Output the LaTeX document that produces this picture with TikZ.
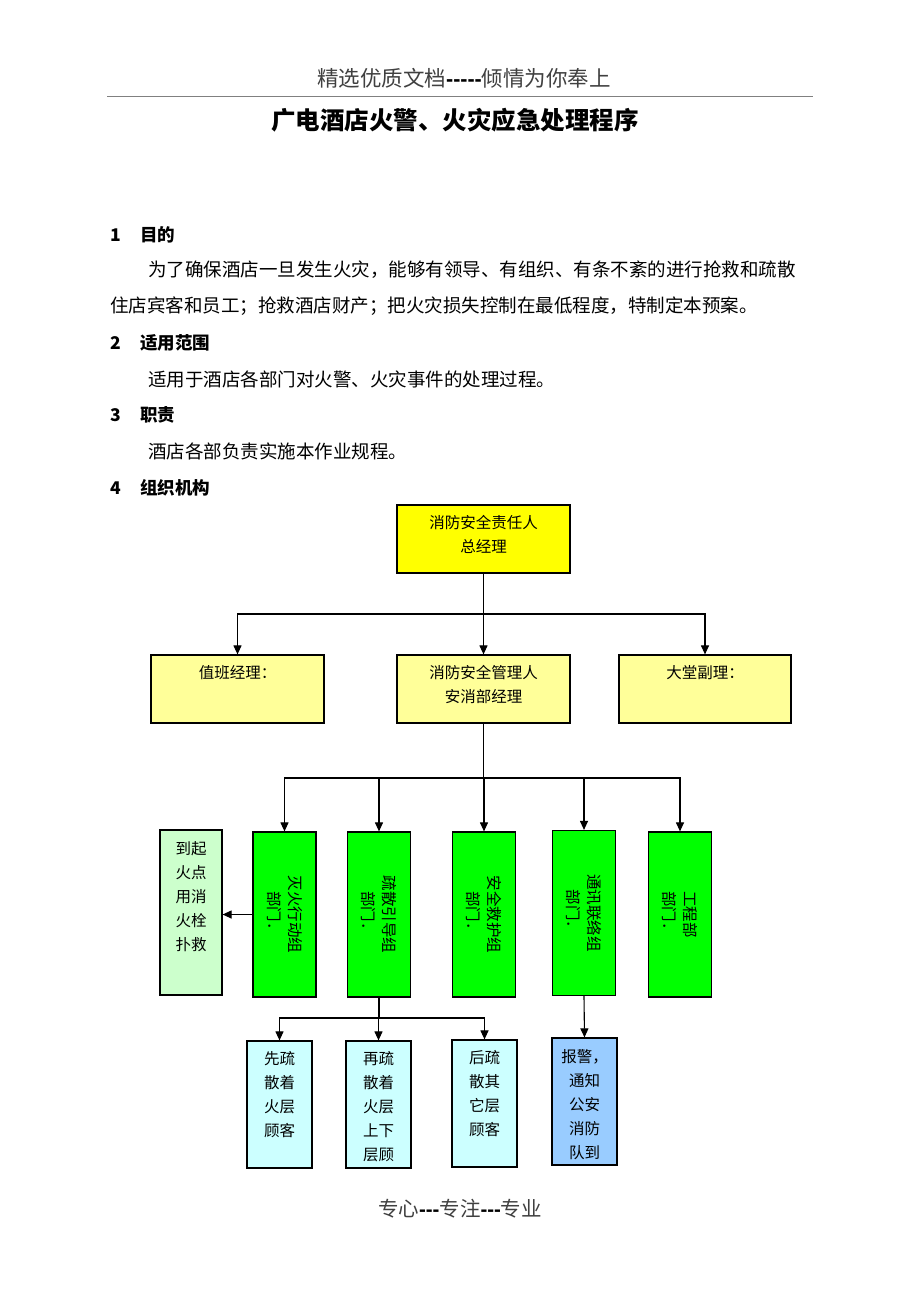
\documentclass[tikz,border=0pt]{standalone}
\usepackage{fontspec}
\setmainfont{Noto Sans CJK SC}
\newfontfamily\dashf{Liberation Sans}
\usetikzlibrary{arrows.meta}
\definecolor{cYel}{HTML}{FFFF00}
\definecolor{cLYel}{HTML}{FFFF99}
\definecolor{cGreen}{HTML}{00FF00}
\definecolor{cLGreen}{HTML}{CCFFCC}
\definecolor{cCyan}{HTML}{CCFFFF}
\definecolor{cBlue}{HTML}{99CCFF}
\newcommand\bxt[4]{\parbox[c][#2][t]{#1}{\centering\baselineskip=24pt\vspace*{#3}#4}}
\newcommand\rtx[1]{\rotatebox{-90}{\parbox{150pt}{\centering\baselineskip=21pt #1}}}
\newcommand\dsh{{\dashf\bfseries\color{black}-}}
\tikzset{
  box/.style={draw=black, line width=1.2pt, inner sep=0pt, font=\fontsize{15.5}{24}\selectfont},
  gbox/.style={box, fill=cGreen, minimum width=63pt, minimum height=165pt},
  arr/.style={line width=1.1pt, -{Triangle[length=9pt,width=8pt]}},
  ln/.style={line width=1.1pt},
  txt/.style={inner sep=0pt, anchor=west, font=\fontsize{18.5}{22}\selectfont},
  hd/.style={inner sep=0pt, anchor=west, font=\fontsize{17.5}{20}\selectfont\bfseries},
}
\begin{document}
\begin{tikzpicture}[x=1pt,y=-1pt]
\useasboundingbox (0,0) rectangle (920,1302);
\fill[white] (0,0) rectangle (920,1302);
% header
\node[inner sep=0pt, font=\fontsize{21.5}{24}\selectfont, text=black!75] (hdr) at (464,78) {精选优质文档\dsh\dsh\dsh\dsh\dsh 倾情为你奉上};
\coordinate (r1) at (107,96);
\coordinate (r2) at (813,96);
\draw[black!50, line width=1pt] (r1) -- (r2);
\node[inner sep=0pt, font=\fontsize{24.5}{28}\selectfont\bfseries] (title) at (455,120) {广电酒店火警、火灾应急处理程序};
% text
\node[hd] (h1) at (110,235) {\makebox[30pt][l]{1}目的};
\node[txt] (p1a) at (148,270) {为了确保酒店一旦发生火灾，能够有领导、有组织、有条不紊的进行抢救和疏散};
\node[txt] (p1b) at (110,306) {住店宾客和员工；抢救酒店财产；把火灾损失控制在最低程度，特制定本预案。};
\node[hd] (h2) at (110,343) {\makebox[30pt][l]{2}适用范围};
\node[txt] (p2) at (148,379) {适用于酒店各部门对火警、火灾事件的处理过程。};
\node[hd] (h3) at (110,415) {\makebox[30pt][l]{3}职责};
\node[txt] (p3) at (148,451) {酒店各部负责实施本作业规程。};
\node[hd] (h4) at (110,488) {\makebox[30pt][l]{4}组织机构};
% org chart boxes
\node[box, fill=cYel] (top) at (483.5,539) {\bxt{173pt}{68pt}{10pt}{消防安全责任人\\总经理}};
\node[box, fill=cLYel] (zb) at (237.5,689) {\bxt{173pt}{68pt}{10pt}{值班经理：}};
\node[box, fill=cLYel] (mgr) at (483.5,689) {\bxt{173pt}{68pt}{10pt}{消防安全管理人\\安消部经理}};
\node[box, fill=cLYel] (dt) at (705,689) {\bxt{172pt}{68pt}{10pt}{大堂副理：}};
\node[box, fill=cLGreen] (fire) at (191,912.5) {\bxt{62pt}{165pt}{11pt}{到起\\火点\\用消\\火栓\\扑救}};
\node[gbox] (g1) at (284.5,914.5) {\rtx{灭火行动组\\部门．}};
\node[gbox] (g2) at (379,914.5) {\rtx{疏散引导组\\部门．}};
\node[gbox] (g3) at (484,914.5) {\rtx{安全救护组\\部门．}};
\node[gbox] (g4) at (584,913) {\rtx{通讯联络组\\部门．}};
\node[gbox] (g5) at (680,914.5) {\rtx{工程部\\部门．}};
\node[box, fill=cCyan] (b1) at (279.5,1104.5) {\bxt{65pt}{127pt}{10pt}{先疏\\散着\\火层\\顾客}};
\node[box, fill=cCyan] (b2) at (378.5,1104.5) {\bxt{65pt}{127pt}{10pt}{再疏\\散着\\火层\\上下\\层顾}};
\node[box, fill=cCyan] (b3) at (484.5,1103.5) {\bxt{65pt}{127pt}{10pt}{后疏\\散其\\它层\\顾客}};
\node[box, fill=cBlue] (alarm) at (584.5,1101.5) {\bxt{65pt}{127pt}{11pt}{报警，\\通知\\公安\\消防\\队到}};
% connectors
\coordinate (j1) at (483.5,614);
\draw[ln] (top.south) -- (j1);
\draw[arr] (j1) -| (zb.north);
\draw[arr] (j1) -| (dt.north);
\draw[arr] (j1) -- (mgr.north);
\coordinate (j2) at (483.5,778);
\draw[ln] (mgr.south) -- (j2);
\draw[arr] (j2) -| (g1.north);
\draw[arr] (j2) -| (g2.north);
\draw[arr] (j2) -| (g3.north);
\draw[arr] (j2) -| (g4.north);
\draw[arr] (j2) -| (g5.north);
\draw[arr] (g1.west) -- (g1.west -| fire.east);
\coordinate (j3) at (379,1018);
\draw[ln] (g2.south) -- (j3);
\draw[arr] (j3) -| (b1.north);
\draw[arr] (j3) -| (b2.north);
\draw[arr] (j3) -| (b3.north);
\draw[arr] (g4.south) -- (alarm.north);
% footer
\node[inner sep=0pt, font=\fontsize{20.5}{24}\selectfont, text=black!75] (ftr) at (460,1209) {专心\dsh\dsh\dsh 专注\dsh\dsh\dsh 专业};
\end{tikzpicture}
\end{document}
